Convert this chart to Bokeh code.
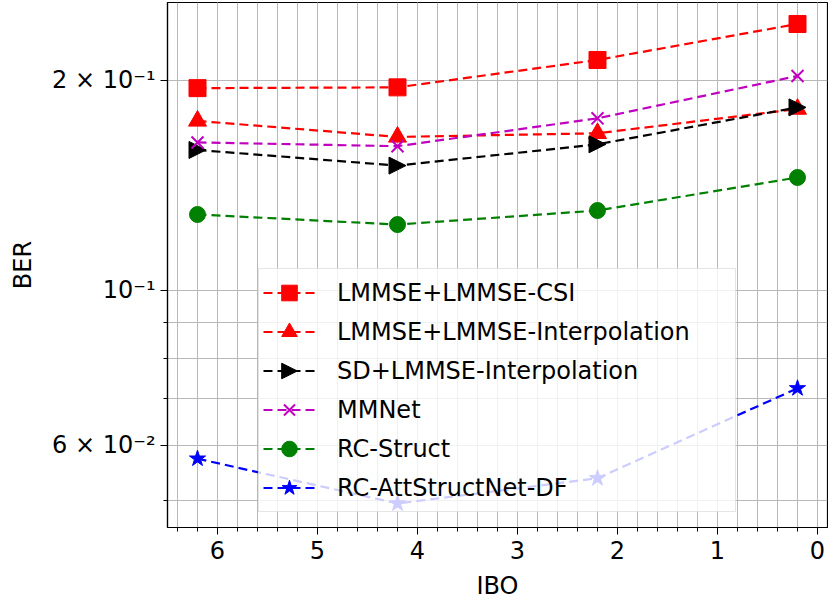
import numpy as np
from bokeh.plotting import figure
from bokeh.models import Range1d, FixedTicker, Legend, LegendItem, CustomJS
from bokeh.embed import file_html
from bokeh.resources import INLINE

# ---- data ----
ibo = [6.2, 4.2, 2.2, 0.2]
lmmse_csi = [0.195, 0.1955, 0.214, 0.241]
lmmse_interp = [0.175, 0.166, 0.168, 0.182]
sd_lmmse_interp = [0.159, 0.151, 0.162, 0.183]
mmnet = [0.163, 0.161, 0.1765, 0.203]
rc_struct = [0.1285, 0.1243, 0.1302, 0.1452]
rc_attstructnet_df = [0.0574, 0.0495, 0.0538, 0.0724]

series_names = ["LMMSE+LMMSE-CSI", "LMMSE+LMMSE-Interpolation", "SD+LMMSE-Interpolation",
                "MMNet", "RC-Struct", "RC-AttStructNet-DF"]
series_values = [lmmse_csi, lmmse_interp, sd_lmmse_interp, mmnet, rc_struct, rc_attstructnet_df]

x_major_ticks = [0, 1, 2, 3, 4, 5, 6]
y_major_ticks = [0.06, 0.1, 0.2]
y_minor_ticks = [0.05, 0.07, 0.08, 0.09]
y_tick_labels = {0.2: "2 × 10⁻¹", 0.1: "10⁻¹", 0.06: "6 × 10⁻²"}

# custom right-pointing triangle marker (matplotlib '>')
tri_right = CustomJS(code="""
export default (args, obj, data) => {
  const {ctx, i, r, visuals} = data
  ctx.beginPath()
  ctx.moveTo(r, 0)
  ctx.lineTo(-r, -r)
  ctx.lineTo(-r, r)
  ctx.closePath()
  visuals.fill.apply(ctx, i)
  visuals.line.apply(ctx, i)
}
""")

# ---- styles ----
styles = [
    dict(color="#ff0000", marker="square", size=17),
    dict(color="#ff0000", marker="triangle", size=18),
    dict(color="#000000", marker="@tri_right", size=17),
    dict(color="#bf00bf", marker="x", size=17),
    dict(color="#008000", marker="circle", size=16),
    dict(color="#0000ff", marker="star", size=17),
]

FONT = "DejaVu Sans"

p = figure(width=828, height=604, output_backend="svg", toolbar_location=None,
           y_axis_type="log",
           x_range=Range1d(6.5, -0.1), y_range=Range1d(0.04573, 0.2587),
           min_border_left=167, min_border_right=1, min_border_top=2, min_border_bottom=77)

p.background_fill_color = "white"
p.border_fill_color = "white"
p.outline_line_color = "black"
p.outline_line_width = 1.2

# ticks
p.xaxis.ticker = FixedTicker(ticks=x_major_ticks,
                             minor_ticks=[round(v, 1) for v in np.arange(0.0, 6.6, 0.2)])
p.yaxis.ticker = FixedTicker(ticks=y_major_ticks, minor_ticks=y_minor_ticks)
p.yaxis.major_label_overrides = y_tick_labels

for ax in (p.xaxis, p.yaxis):
    ax.axis_line_color = "black"
    ax.axis_line_width = 1.2
    ax.major_tick_line_color = "black"
    ax.minor_tick_line_color = "black"
    ax.major_tick_out = 7
    ax.major_tick_in = 0
    ax.minor_tick_out = 4
    ax.minor_tick_in = 0
    ax.major_label_text_font = FONT
    ax.major_label_text_font_size = "24px"
    ax.major_label_text_color = "black"
    ax.axis_label_text_font = FONT
    ax.axis_label_text_font_size = "24px"
    ax.axis_label_text_font_style = "normal"
    ax.axis_label_text_color = "black"

p.xaxis.axis_label = "IBO"
p.yaxis.axis_label = "BER"
p.xaxis.major_label_standoff = 6
p.xaxis.axis_label_standoff = 10
p.yaxis.major_label_standoff = 5
p.yaxis.axis_label_standoff = 12

# grid
for g in (p.xgrid, p.ygrid):
    g.grid_line_color = "#b8b8b8"
    g.grid_line_width = 1
    g.minor_grid_line_color = "#b8b8b8"
    g.minor_grid_line_width = 1

items = []
for name, vals, st in zip(series_names, series_values, styles):
    lr = p.line(ibo, vals, line_color=st["color"], line_width=2.2, line_dash="9 5")
    if st["marker"] == "x":
        sr = p.scatter(ibo, vals, marker="x", size=st["size"], line_color=st["color"],
                       line_width=2)
    elif st["marker"].startswith("@"):
        sr = p.scatter(ibo, vals, marker=st["marker"], size=st["size"],
                       defs={"@tri_right": tri_right},
                       fill_color=st["color"], line_color=st["color"], line_width=1)
    else:
        sr = p.scatter(ibo, vals, marker=st["marker"], size=st["size"],
                       fill_color=st["color"], line_color=st["color"], line_width=1)
    items.append(LegendItem(label=name, renderers=[lr, sr]))

legend = Legend(items=items, location=(91, 15))
legend.label_text_font = FONT
legend.label_text_font_size = "24px"
legend.label_text_color = "black"
legend.glyph_width = 52
legend.glyph_height = 39
legend.label_height = 39
legend.label_width = 394
legend.label_standoff = 22
legend.padding = 4
legend.spacing = 0
legend.margin = 0
legend.border_line_color = "#cccccc"
legend.border_line_width = 1
legend.background_fill_color = "white"
legend.background_fill_alpha = 0.8
p.add_layout(legend)

open("out.html", "w").write(file_html(p, INLINE))
